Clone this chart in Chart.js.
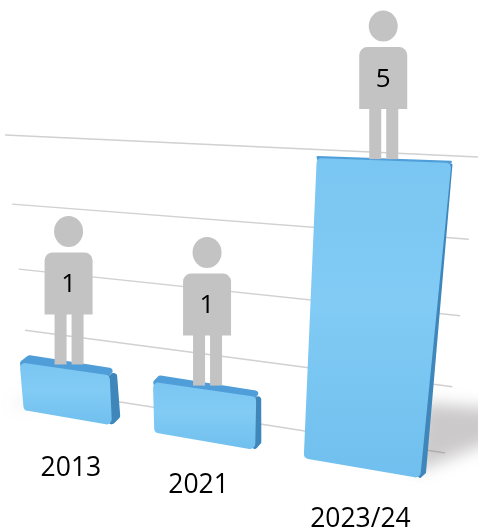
<!DOCTYPE html>
<html>
<head>
<meta charset="utf-8">
<style>
  html, body { margin: 0; padding: 0; background: #fff; }
  canvas { display: block; }
</style>
<script src="https://cdn.jsdelivr.net/npm/chart.js@4/dist/chart.umd.js"></script>
</head>
<body>
<canvas id="chart" width="478" height="531"></canvas>
<script>
// Chart values
const years = ['2013', '2021', '2023/24'];
const counts = [1, 1, 5];
const gridValues = [1, 2, 3, 4, 5];

// Perspective planes, corners in order: bottom-left, bottom-right, top-right, top-left
const frontPlane = [[5, 407], [448, 483], [484, 164], [-20, 146]];
const rearPlane = [[16, 398], [454, 478], [486, 162], [-17, 144]];
const wallPlane = [[31, 388], [445, 453], [478, 157], [5, 135]];

// Hand placed year captions, relative to the foot of each bar
const captionNudge = [[4, 51], [-5, 44], [0, 51]];

const INK = '#000000';
const FIGURE = '#c3c3c3';
const GRID = '#d2d0d0';

// Maps the unit square onto a quad (standard projective square-to-quad)
function quadMapper(q) {
    const [p0, p1, p2, p3] = q;
    const dx1 = p1[0] - p2[0], dx2 = p3[0] - p2[0], sx = p0[0] - p1[0] + p2[0] - p3[0];
    const dy1 = p1[1] - p2[1], dy2 = p3[1] - p2[1], sy = p0[1] - p1[1] + p2[1] - p3[1];
    const den = dx1 * dy2 - dx2 * dy1;
    const g = (sx * dy2 - dx2 * sy) / den;
    const h = (dx1 * sy - sx * dy1) / den;
    const a = p1[0] - p0[0] + g * p1[0], b = p3[0] - p0[0] + h * p3[0], c = p0[0];
    const d = p1[1] - p0[1] + g * p1[1], e = p3[1] - p0[1] + h * p3[1], f = p0[1];
    return (u, v) => {
        const w = g * u + h * v + 1;
        return [(a * u + b * v + c) / w, (d * u + e * v + f) / w];
    };
}

const toFront = quadMapper(frontPlane);
const toRear = quadMapper(rearPlane);
const toWall = quadMapper(wallPlane);

// Closed polygon with rounded corners
function roundedPoly(ctx, pts, r) {
    const n = pts.length;
    const a = pts[n - 1], b = pts[0];
    ctx.beginPath();
    ctx.moveTo((a[0] + b[0]) / 2, (a[1] + b[1]) / 2);
    for (let i = 0; i < n; i++) {
        const cur = pts[i], next = pts[(i + 1) % n];
        ctx.arcTo(cur[0], cur[1], (cur[0] + next[0]) / 2, (cur[1] + next[1]) / 2, r);
    }
    ctx.closePath();
}

function drawGrid(ctx, chart) {
    const yScale = chart.scales.y;
    const lo = yScale.getPixelForValue(gridValues[0]);
    const hi = yScale.getPixelForValue(gridValues[gridValues.length - 1]);
    ctx.save();
    ctx.strokeStyle = GRID;
    ctx.lineWidth = 1.4;
    gridValues.forEach(val => {
        const t = (lo - yScale.getPixelForValue(val)) / (lo - hi);
        const from = toWall(0, t), to = toWall(1, t);
        ctx.beginPath();
        ctx.moveTo(from[0], from[1]);
        ctx.lineTo(to[0], to[1]);
        ctx.stroke();
    });
    ctx.restore();
}

// Projected corners of one bar element
function barCorners(chart, bar) {
    const area = chart.chartArea;
    const { x, y, base, width } = bar.getProps(['x', 'y', 'base', 'width']);
    const u0 = (x - width / 2 - area.left) / area.width;
    const u1 = (x + width / 2 - area.left) / area.width;
    const v0 = (area.bottom - base) / area.height;
    const v1 = (area.bottom - y) / area.height;
    return {
        bl: toFront(u0, v0), br: toFront(u1, v0), tr: toFront(u1, v1), tl: toFront(u0, v1),
        rearBr: toRear(u1, v0), rearTr: toRear(u1, v1), rearTl: toRear(u0, v1),
        rearMid: toRear((u0 + u1) / 2, v1), frontMid: toFront((u0 + u1) / 2, v1),
        footMid: toFront((u0 + u1) / 2, v0)
    };
}

// Soft floor shadow thrown away from the middle of the chart
function drawShadow(ctx, c, side) {
    const reach = (c.br[1] - c.tr[1]) * 0.27;
    const edgeTop = side > 0 ? c.rearTr : c.rearTl;
    const edgeLow = side > 0 ? c.br : c.bl;
    const t = 0.24;
    const ax = edgeLow[0] + (edgeTop[0] - edgeLow[0]) * t;
    const ay = edgeLow[1] + (edgeTop[1] - edgeLow[1]) * t;
    ctx.save();
    ctx.filter = 'blur(8px)';
    ctx.fillStyle = 'rgba(110, 104, 104, 0.36)';
    ctx.beginPath();
    ctx.moveTo(ax - side * 6, ay + 1);
    ctx.lineTo(ax + side * reach, ay + 8);
    ctx.lineTo(edgeLow[0] + side * reach, edgeLow[1] - reach * 0.5);
    ctx.lineTo(edgeLow[0] - side * 6, edgeLow[1] - 6);
    ctx.closePath();
    ctx.fill();
    ctx.restore();
}

function drawBar(ctx, c) {
    // top face and right side run under the front so its rounded corners leave no gap
    const depth = c.frontMid[1] - c.rearMid[1];
    const r = Math.min(4.5, depth / 2);
    const inTr = [c.tr[0] - 8, c.tr[1] + 8];
    const inTl = [c.tl[0] + 2, c.tl[1] + 8];
    const inBr = [c.br[0] - 8, c.br[1] - 6];
    roundedPoly(ctx, [inTl, c.tl, c.rearTl, c.rearTr, c.tr, inTr], r);
    ctx.fillStyle = '#4f9ed9';
    ctx.fill();

    roundedPoly(ctx, [inTr, c.tr, c.rearTr, c.rearBr, c.br, inBr], Math.min(3.5, r));
    ctx.fillStyle = '#3f86bb';
    ctx.fill();

    const grad = ctx.createLinearGradient(0, c.tl[1], 0, c.br[1]);
    grad.addColorStop(0, '#7ac6f2');
    grad.addColorStop(0.45, '#81cbf5');
    grad.addColorStop(1, '#70bfee');
    roundedPoly(ctx, [c.tl, c.tr, c.br, c.bl], 5);
    ctx.fillStyle = grad;
    ctx.fill();
}

// Pictogram standing on a bar, with the count on its chest
function drawFigure(ctx, footX, footY, value) {
    ctx.save();
    ctx.translate(footX, footY);
    ctx.fillStyle = FIGURE;
    ctx.beginPath();
    ctx.ellipse(0, -133, 14.5, 15.5, 0, 0, Math.PI * 2);
    ctx.fill();
    ctx.beginPath();
    ctx.roundRect(-24, -112, 48, 62, [8, 8, 0, 0]);
    ctx.fill();
    ctx.fillRect(-14, -51, 12, 51);
    ctx.fillRect(3, -51, 12, 51);
    ctx.fillStyle = INK;
    ctx.font = '26px "Open Sans"';
    ctx.textAlign = 'center';
    ctx.textBaseline = 'middle';
    ctx.fillText(String(value), 0, -80);
    ctx.restore();
}

const perspectivePlugin = {
    id: 'perspectiveBars',
    beforeDatasetDraw(chart, args) {
        const ctx = chart.ctx;
        const corners = args.meta.data.map(bar => barCorners(chart, bar));
        drawGrid(ctx, chart);
        drawShadow(ctx, corners[0], -1);
        drawShadow(ctx, corners[2], 1);
        corners.forEach(c => drawBar(ctx, c));
        corners.forEach((c, i) => {
            const footX = (c.frontMid[0] + c.rearMid[0]) / 2 + 1;
            const footY = c.frontMid[1] * 0.4 + c.rearMid[1] * 0.6;
            drawFigure(ctx, footX, footY, counts[i]);
            ctx.fillStyle = INK;
            ctx.font = '26.5px "Open Sans"';
            ctx.textAlign = 'center';
            ctx.textBaseline = 'middle';
            ctx.fillText(years[i], c.footMid[0] + captionNudge[i][0], c.footMid[1] + captionNudge[i][1]);
        });
        return false;
    }
};

new Chart(document.getElementById('chart').getContext('2d'), {
    type: 'bar',
    data: {
        labels: years,
        datasets: [{ data: counts, barPercentage: 0.69, categoryPercentage: 1, backgroundColor: '#81cbf5' }]
    },
    options: {
        responsive: false,
        animation: false,
        layout: { padding: 20 },
        plugins: { legend: { display: false }, tooltip: { enabled: false } },
        scales: {
            x: { display: false },
            y: { display: false, min: 0, max: 5 }
        }
    },
    plugins: [perspectivePlugin]
});
</script>
</body>
</html>
